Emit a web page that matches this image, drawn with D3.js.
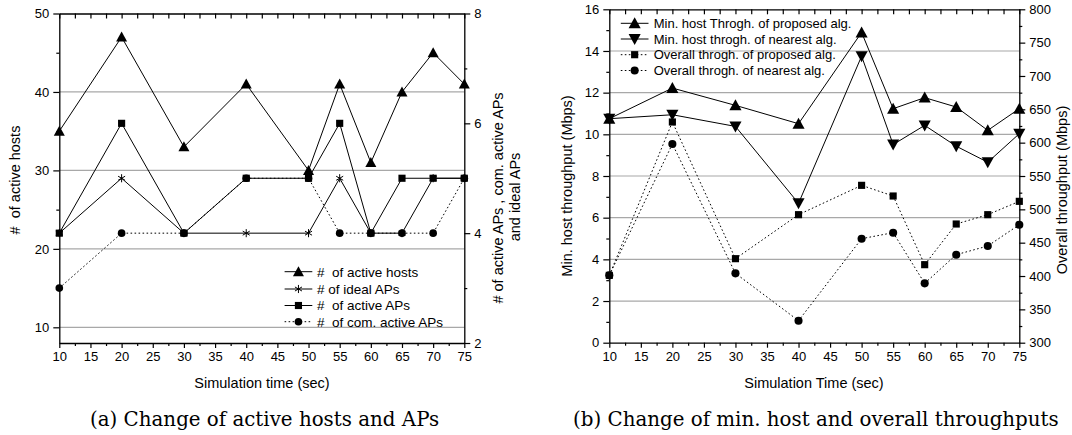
<!DOCTYPE html>
<html>
<head>
<meta charset="utf-8">
<script src="https://cdn.jsdelivr.net/npm/d3@7"></script>
<style>
  html, body { margin: 0; padding: 0; background: #fff; }
  svg { display: block; }
  text { font-family: "Liberation Sans", Arial, sans-serif; fill: #000; }
  .cap { font-family: "DejaVu Serif", "Liberation Serif", serif; }
</style>
</head>
<body>
<svg id="fig" width="1072" height="435"></svg>
<script>
// ---- data: (a) active hosts and APs ----
const timesA = [10, 20, 30, 40, 50, 55, 60, 65, 70, 75];
const activeHosts = [35, 47, 33, 41, 30, 41, 31, 40, 45, 41];
const idealAPs = [4, 5, 4, 4, 4, 5, 4, 4, 5, 5];
const activeAPs = [4, 6, 4, 5, 5, 6, 4, 5, 5, 5];
const comActiveAPs = [3, 4, 4, 5, 5, 4, 4, 4, 4, 5];

// ---- data: (b) throughputs ----
const timesB = [10, 20, 30, 40, 50, 55, 60, 65, 70, 75];
const minHostProposed = [10.75, 12.22, 11.39, 10.51, 14.89, 11.23, 11.76, 11.31, 10.19, 11.23];
const minHostNearest = [10.75, 10.94, 10.38, 6.69, 13.75, 9.51, 10.43, 9.43, 8.66, 10.03];
const overallProposed = [401, 631, 426, 492, 536, 520, 417, 478, 492, 512];
const overallNearest = [401, 598, 404, 333, 456, 465, 389, 432, 445, 477];

// ---- tick values ----
const xMajor = [10, 15, 20, 25, 30, 35, 40, 45, 50, 55, 60, 65, 70, 75];
const xMinor = d3.range(12.5, 75, 5);
const xTop = d3.range(10, 75.01, 2.5);
const hostTicks = [10, 20, 30, 40, 50];
const hostMinor = [15, 25, 35, 45];
const apTicks = [2, 4, 6, 8];
const apMinor = [3, 5, 7];
const minTicks = [0, 2, 4, 6, 8, 10, 12, 14, 16];
const minMinor = [1, 3, 5, 7, 9, 11, 13, 15];
const overallTicks = [300, 350, 400, 450, 500, 550, 600, 650, 700, 750, 800];
const overallMinor = [325, 375, 425, 475, 525, 575, 625, 675, 725, 775];

const svg = d3.select("#fig");
const GRID = "#a8a8a8";
const TICKFONT = 13;

// marker shapes drawn around (0,0)
function marker(g, type, s) {
  if (type === "triUp") {
    g.append("path").attr("d", `M0,${-s*0.55}L${s*0.55},${s*0.45}L${-s*0.55},${s*0.45}Z`).attr("fill", "#000");
  } else if (type === "triDown") {
    g.append("path").attr("d", `M0,${s*0.55}L${s*0.55},${-s*0.45}L${-s*0.55},${-s*0.45}Z`).attr("fill", "#000");
  } else if (type === "square") {
    g.append("rect").attr("x", -s*0.42).attr("y", -s*0.42).attr("width", s*0.84).attr("height", s*0.84).attr("fill", "#000");
  } else if (type === "circle") {
    g.append("circle").attr("r", s*0.45).attr("fill", "#000");
  } else if (type === "star") {
    const r = s*0.45;
    const a = Math.cos(Math.PI/6) * r, b = Math.sin(Math.PI/6) * r;
    g.append("path")
      .attr("d", `M0,${-r}L0,${r}M${-a},${-b}L${a},${b}M${-a},${b}L${a},${-b}`)
      .attr("stroke", "#000").attr("stroke-width", 1).attr("fill", "none");
  }
}

function drawAxes(g, x, yL, yR, o) {
  const [x0, x1] = x.range();
  const [yb, yt] = yL.range();
  // horizontal grid
  g.append("g").selectAll("line").data(o.grid).join("line")
    .attr("x1", x0).attr("x2", x1)
    .attr("y1", d => yL(d)).attr("y2", d => yL(d))
    .attr("stroke", GRID).attr("stroke-width", 1.2);

  const style = sel => {
    sel.selectAll("path.domain").attr("stroke", "#000").attr("stroke-width", 1.3);
    sel.selectAll(".tick line").attr("stroke", "#000").attr("stroke-width", 1.2);
    sel.selectAll(".tick text").attr("font-size", TICKFONT).attr("font-family", "Liberation Sans, Arial, sans-serif");
  };
  // bottom
  g.append("g").attr("transform", `translate(0,${yb})`)
    .call(d3.axisBottom(x).tickValues(xMajor).tickFormat(d3.format("d")).tickSize(5).tickSizeOuter(0).tickPadding(4))
    .call(style);
  g.append("g").attr("transform", `translate(0,${yb})`)
    .call(d3.axisBottom(x).tickValues(xMinor).tickFormat("").tickSize(3).tickSizeOuter(0))
    .call(style).select("path.domain").remove();
  // top (ticks pointing inward)
  g.append("g").attr("transform", `translate(0,${yt})`)
    .call(d3.axisTop(x).tickValues(xTop).tickFormat("").tickSize(-5).tickSizeOuter(0))
    .call(style);
  // left
  g.append("g").attr("transform", `translate(${x0},0)`)
    .call(d3.axisLeft(yL).tickValues(o.lMajor).tickFormat(d3.format("d")).tickSize(6).tickSizeOuter(0).tickPadding(4))
    .call(style);
  g.append("g").attr("transform", `translate(${x0},0)`)
    .call(d3.axisLeft(yL).tickValues(o.lMinor).tickFormat("").tickSize(3).tickSizeOuter(0))
    .call(style).select("path.domain").remove();
  // right
  g.append("g").attr("transform", `translate(${x1},0)`)
    .call(d3.axisRight(yR).tickValues(o.rMajor).tickFormat(d3.format("d")).tickSize(6).tickSizeOuter(0).tickPadding(4))
    .call(style);
  g.append("g").attr("transform", `translate(${x1},0)`)
    .call(d3.axisRight(yR).tickValues(o.rMinor).tickFormat("").tickSize(3).tickSizeOuter(0))
    .call(style).select("path.domain").remove();
}

function drawSeries(g, xs, ys, x, y, dashed) {
  const line = d3.line().x((d, i) => x(xs[i])).y(d => y(d));
  g.append("path").datum(ys).attr("d", line)
    .attr("fill", "none").attr("stroke", "#000").attr("stroke-width", 1)
    .attr("stroke-dasharray", dashed ? "1.6,2.4" : null);
}
function drawMarkers(g, xs, ys, x, y, type, s) {
  ys.forEach((v, i) => {
    const m = g.append("g").attr("transform", `translate(${x(xs[i])},${y(v)})`);
    marker(m, type, s);
  });
}

function legend(g, items, lx0, lx1, tx, rows, fs) {
  items.forEach((it, i) => {
    const yy = rows[i];
    g.append("line").attr("x1", lx0).attr("x2", lx1).attr("y1", yy).attr("y2", yy)
      .attr("stroke", "#000").attr("stroke-width", 1)
      .attr("stroke-dasharray", it.dashed ? "1.6,2.4" : null);
    const m = g.append("g").attr("transform", `translate(${(lx0 + lx1) / 2},${yy})`);
    marker(m, it.type, it.size);
    g.append("text").attr("x", tx).attr("y", yy).attr("dy", "0.36em")
      .attr("font-size", fs).style("white-space", "pre").text(it.label);
  });
}

// ================= (a) =================
const gA = svg.append("g");
const xA = d3.scaleLinear().domain([10, 75]).range([59.3, 464.3]);
const yA = d3.scaleLinear().domain([8, 50]).range([343, 13.5]);
const yA2 = d3.scaleLinear().domain([2, 8]).range([343, 13.5]);

drawAxes(gA, xA, yA, yA2, {
  grid: [10, 20, 30, 40], lMajor: hostTicks, lMinor: hostMinor, rMajor: apTicks, rMinor: apMinor
});

drawSeries(gA, timesA, activeHosts, xA, yA, false);
drawSeries(gA, timesA, idealAPs, xA, yA2, false);
drawSeries(gA, timesA, activeAPs, xA, yA2, false);
drawSeries(gA, timesA, comActiveAPs, xA, yA2, true);
drawMarkers(gA, timesA, comActiveAPs, xA, yA2, "circle", 8.5);
drawMarkers(gA, timesA, idealAPs, xA, yA2, "star", 9);
drawMarkers(gA, timesA, activeAPs, xA, yA2, "square", 8.5);
drawMarkers(gA, timesA, activeHosts, xA, yA, "triUp", 10);

legend(gA, [
  { label: "#  of active hosts", type: "triUp", size: 10 },
  { label: "# of ideal APs", type: "star", size: 9 },
  { label: "#  of active APs", type: "square", size: 8.5 },
  { label: "#  of com. active APs", type: "circle", size: 8.5, dashed: true }
], 284.6, 312.3, 317, [271.7, 289, 305.5, 321.7], 13.5);

gA.append("text").attr("x", 262).attr("y", 388).attr("text-anchor", "middle")
  .attr("font-size", 14.5).text("Simulation time (sec)");
gA.append("text").attr("transform", "translate(20,180) rotate(-90)").attr("text-anchor", "middle")
  .attr("font-size", 14.5).style("white-space", "pre").text("#  of active hosts");
gA.append("text").attr("transform", "translate(503,198) rotate(-90)").attr("text-anchor", "middle")
  .attr("font-size", 14.5).text("# of active APs , com. active APs");
gA.append("text").attr("transform", "translate(520,197) rotate(-90)").attr("text-anchor", "middle")
  .attr("font-size", 14.5).text("and ideal APs");

// ================= (b) =================
const gB = svg.append("g");
const xB = d3.scaleLinear().domain([10, 75]).range([609.3, 1019.3]);
const yB = d3.scaleLinear().domain([0, 16]).range([342.7, 9.3]);
const yB2 = d3.scaleLinear().domain([300, 800]).range([342.7, 9.3]);

drawAxes(gB, xB, yB, yB2, {
  grid: [2, 4, 6, 8, 10, 12, 14], lMajor: minTicks, lMinor: minMinor, rMajor: overallTicks, rMinor: overallMinor
});

drawSeries(gB, timesB, minHostProposed, xB, yB, false);
drawSeries(gB, timesB, minHostNearest, xB, yB, false);
drawSeries(gB, timesB, overallProposed, xB, yB2, true);
drawSeries(gB, timesB, overallNearest, xB, yB2, true);
drawMarkers(gB, timesB, overallProposed, xB, yB2, "square", 8.5);
drawMarkers(gB, timesB, overallNearest, xB, yB2, "circle", 9);
drawMarkers(gB, timesB, minHostNearest, xB, yB, "triDown", 11);
drawMarkers(gB, timesB, minHostProposed, xB, yB, "triUp", 11);

legend(gB, [
  { label: "Min. host Throgh. of proposed alg.", type: "triUp", size: 11 },
  { label: "Min. host throgh. of nearest alg.", type: "triDown", size: 11 },
  { label: "Overall throgh. of proposed alg.", type: "square", size: 8.5, dashed: true },
  { label: "Overall throgh. of nearest alg.", type: "circle", size: 9, dashed: true }
], 620.8, 648.5, 653.7, [23.3, 39, 54.7, 70.5], 13);

gB.append("text").attr("x", 814).attr("y", 388).attr("text-anchor", "middle")
  .attr("font-size", 14.5).text("Simulation Time (sec)");
gB.append("text").attr("transform", "translate(572,186) rotate(-90)").attr("text-anchor", "middle")
  .attr("font-size", 14.5).text("Min. host throughput (Mbps)");
gB.append("text").attr("transform", "translate(1067,190) rotate(-90)").attr("text-anchor", "middle")
  .attr("font-size", 14.5).text("Overall throughput (Mbps)");

// ================= captions =================
const capA = svg.append("text").attr("class", "cap").attr("x", 90).attr("y", 426)
  .attr("font-size", 18).text("(a) Change of active hosts and APs");
const capB = svg.append("text").attr("class", "cap").attr("x", 573).attr("y", 426)
  .attr("font-size", 18).text("(b) Change of min. host and overall throughputs");
// fit caption size so (b) spans its column width
const wB = capB.node().getComputedTextLength();
const fs = 18 * 486 / wB;
capA.attr("font-size", fs);
capB.attr("font-size", fs);
</script>
</body>
</html>
